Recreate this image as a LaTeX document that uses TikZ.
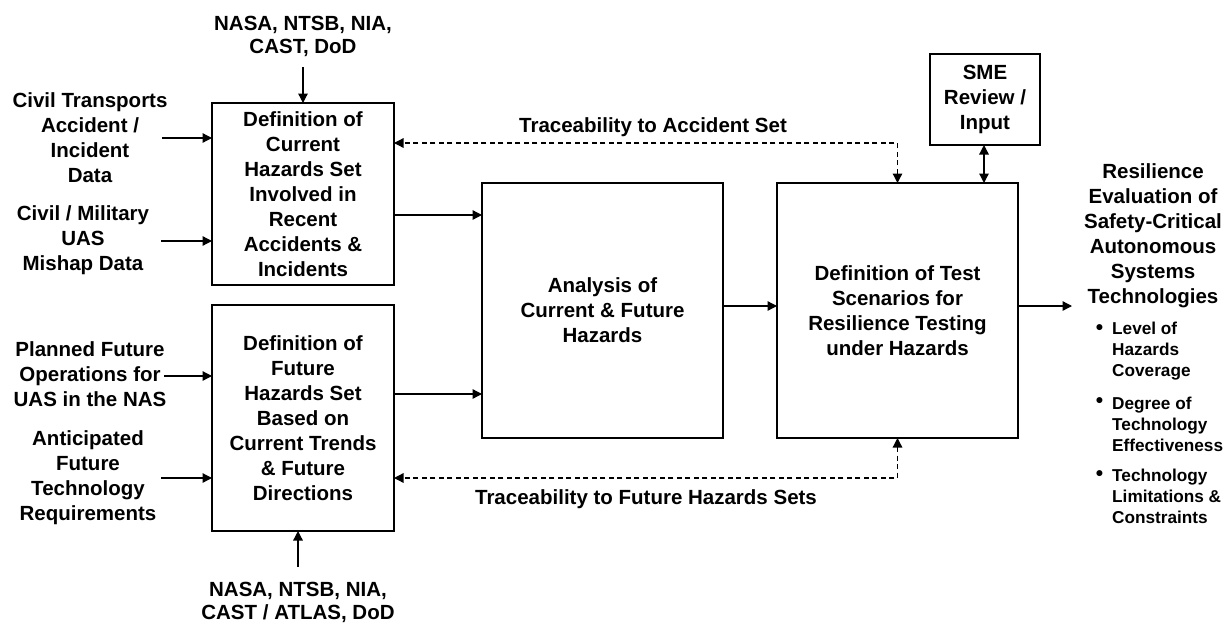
\documentclass[tikz,border=0pt]{standalone}
\usepackage{fontspec}
\setmainfont{Liberation Sans}
\usetikzlibrary{arrows.meta}
\begin{document}
\begin{tikzpicture}[x=1pt,y=-1pt,
  box/.style={draw, line width=1.4pt, inner sep=0pt, outer sep=0pt, align=center,
    font=\bfseries\fontsize{20.5}{25}\selectfont},
  lbl/.style={align=center, inner sep=0pt, font=\bfseries\fontsize{20.5}{25}\selectfont},
  srclbl/.style={align=center, inner sep=0pt, font=\bfseries\fontsize{20.5}{22.5}\selectfont},
  itemlbl/.style={align=left, inner sep=0pt, anchor=west, font=\bfseries\fontsize{17.2}{21}\selectfont},
  tip/.tip={Triangle[length=9.5pt,width=9.5pt]},
  arr/.style={-tip, line width=1.3pt},
  biarr/.style={tip-tip, line width=1.3pt},
  dasharr/.style={tip-tip, line width=1.3pt, dash pattern=on 5pt off 3.5pt},
]
% canvas
\useasboundingbox (0,0) rectangle (1231,624);

% process boxes
\node[box, minimum width=182, minimum height=182] (A) at (303,194)
  {Definition of\\Current\\Hazards Set\\Involved in\\Recent\\Accidents \&\\Incidents};
\node[box, minimum width=182, minimum height=226] (B) at (303,418)
  {Definition of\\Future\\Hazards Set\\Based on\\Current Trends\\\& Future\\Directions};
\node[box, minimum width=241, minimum height=255] (C) at (602.5,310.5)
  {Analysis of\\Current \& Future\\Hazards};
\node[box, minimum width=241, minimum height=255] (D) at (897.5,310.5)
  {Definition of Test\\Scenarios for\\Resilience Testing\\under Hazards};
\node[box, minimum width=110, minimum height=91] (SME) at (985,99.5)
  {SME\\Review /\\Input};

% data sources
\node[srclbl] (srcTop) at (303,36.5) {NASA, NTSB, NIA,\\CAST, DoD};
\node[srclbl] (srcBot) at (298,602.5) {NASA, NTSB, NIA,\\CAST / ATLAS, DoD};
\node[lbl] (in1) at (90,137.5) {Civil Transports\\Accident /\\Incident\\Data};
\node[lbl] (in2) at (83,240) {Civil / Military\\UAS\\Mishap Data};
\node[lbl] (in3) at (90,374) {Planned Future\\Operations for\\UAS in the NAS};
\node[lbl] (in4) at (88,477.5) {Anticipated\\Future\\Technology\\Requirements};

\coordinate (in1e) at (162,138);
\coordinate (in2e) at (161,241);
\coordinate (in3e) at (164,376);
\coordinate (in4e) at (161,478);
\coordinate (srcTopE) at (303,67);
\coordinate (srcBotE) at (298,567);
\coordinate (outE) at (1072,306);

% outputs
\node[lbl] (out) at (1153,236) {Resilience\\Evaluation of\\Safety-Critical\\Autonomous\\Systems\\Technologies};
\node[itemlbl] (b1) at (1112,351) {Level of\\Hazards\\Coverage};
\node[itemlbl] (b2) at (1112,424) {Degree of\\Technology\\Effectiveness};
\node[itemlbl] (b3) at (1112,496.5) {Technology\\Limitations \&\\Constraints};
\foreach \n/\yy in {1/330,2/403,3/476}
  \node[inner sep=0pt, font=\bfseries\fontsize{21}{21}\selectfont] (dot\n) at (1099.5,\yy) {\textbullet};

% traceability labels
\node[lbl, anchor=base] (tr1) at (653,132) {Traceability to Accident Set};
\node[lbl, anchor=base] (tr2) at (646,504) {Traceability to Future Hazards Sets};

% input arrows
\draw[arr] (in1e) -- (A.west |- in1e);
\draw[arr] (in2e) -- (A.west |- in2e);
\draw[arr] (in3e) -- (B.west |- in3e);
\draw[arr] (in4e) -- (B.west |- in4e);
\draw[arr] (srcTopE) -- (A.north);
\draw[arr] (srcBotE) -- (srcBotE |- B.south);

% main flow
\draw[arr] (A.east |- 0,215) -- (C.west |- 0,215);
\draw[arr] (B.east |- 0,394) -- (C.west |- 0,394);
\draw[arr] (C.east |- 0,306) -- (D.west |- 0,306);
\draw[arr] (D.east |- outE) -- (outE);
\draw[biarr] (SME.south -| 984,0) -- (D.north -| 984,0);

% traceability loops
\draw[dasharr] (D.north) |- (A.east |- 0,143);
\draw[dasharr] (D.south) |- (B.east |- 0,478);
\end{tikzpicture}
\end{document}
